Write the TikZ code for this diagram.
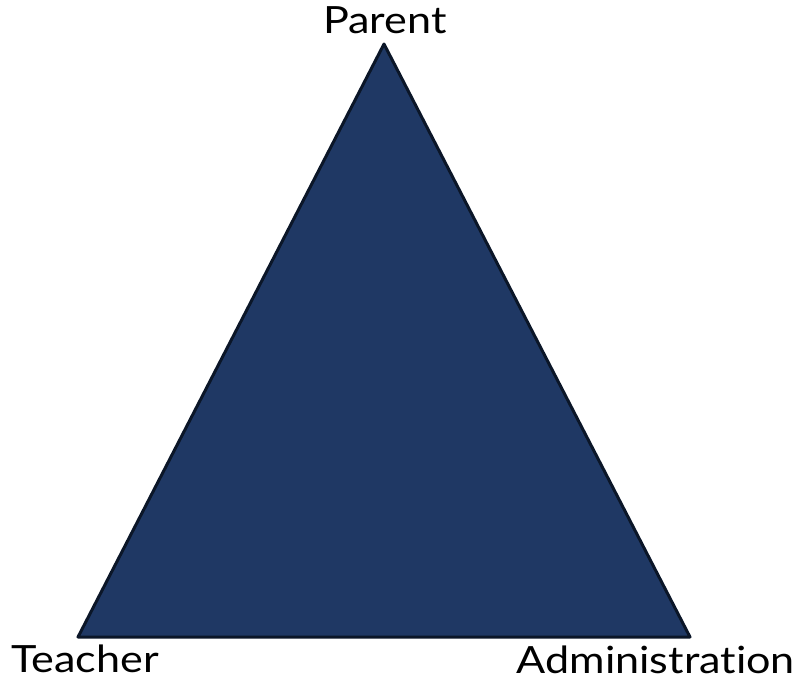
\documentclass[tikz,border=0pt]{standalone}
\usepackage{fontspec}
\setmainfont{Lato}[Ligatures=NoCommon, FakeStretch=1.15]
\definecolor{navy}{HTML}{1F3864}
\definecolor{edge}{HTML}{0B1628}
\begin{document}
\begin{tikzpicture}[x=1pt,y=-1pt,
  lbl/.style={font=\fontsize{37.5}{42}\selectfont, text=black, inner sep=0pt, anchor=base}]
\useasboundingbox (0,0) rectangle (805,689);
\coordinate (P) at (384,44);
\coordinate (T) at (78,637);
\coordinate (A) at (690,637);
\draw[fill=navy, draw=edge, line width=3pt, line join=round] (P) -- (T) -- (A) -- cycle;
\node[lbl] (parent) at (385,33) {Parent};
\node[lbl, anchor=base west] (teacher) at (11,672) {Teacher};
\node[lbl, anchor=base east] (admin) at (795,673) {Administration};
\end{tikzpicture}
\end{document}
